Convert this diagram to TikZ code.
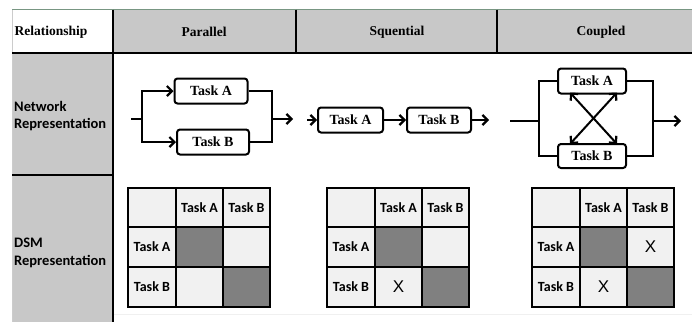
\documentclass[tikz,border=0pt]{standalone}
\usepackage{fontspec}
\setmainfont{Liberation Serif}
\newfontfamily\califont{Carlito}
\newfontfamily\arialfont{Liberation Sans}
\usetikzlibrary{arrows.meta}

\definecolor{headgray}{RGB}{200,200,200}
\definecolor{cellgray}{RGB}{241,241,241}
\definecolor{diaggray}{RGB}{128,128,128}
\definecolor{topline}{RGB}{120,150,130}

\begin{document}
\begin{tikzpicture}[x=1pt,y=-1pt,
    head/.style={font=\bfseries\fontsize{13.5}{15}\selectfont},
    rowlabel/.style={font=\califont\bfseries\fontsize{14.5}{17.5}\selectfont, align=left, anchor=west, inner sep=0pt},
    task/.style={draw, line width=2pt, rounded corners=3pt, minimum height=25pt, inner sep=2pt,
      font=\bfseries\fontsize{14}{15}\selectfont},
    arr/.style={line width=2pt, -{Straight Barb[length=5pt,width=10pt,line width=2.2pt]}},
    arrboth/.style={line width=2pt, {Straight Barb[length=5pt,width=10pt,line width=2.2pt]}-{Straight Barb[length=5pt,width=10pt,line width=2.2pt]}},
    wire/.style={line width=2pt},
    dsm/.style={font=\califont\bfseries\fontsize{14}{15}\selectfont},
    xmark/.style={font=\arialfont\fontsize{17}{19}\selectfont}
  ]

    \useasboundingbox (0,0) rectangle (692,322);

    % table
    \fill[headgray] (113,9.5) rectangle (692,53);
    \fill[headgray] (12,53) rectangle (113,322);
    \draw[topline, line width=0.8pt] (12,9.5) -- (692,9.5);
    \draw[gray!40, line width=0.6pt] (12,9.5) -- (12,322);
    \draw[gray!12, line width=0.8pt] (113,314) -- (692,314);
    \draw[line width=2pt] (12,53) -- (692,53);
    \draw[line width=2pt] (12,175) -- (113,175);
    \draw[line width=2pt] (113,9.5) -- (113,322);
    \draw[line width=2pt] (296,9.5) -- (296,53);
    \draw[line width=2pt] (497,9.5) -- (497,53);

    \node[head] (relation) at (51,32) {Relationship};
    \node[head] (parallel) at (204,32) {Parallel};
    \node[head] (squential) at (397,32) {Squential};
    \node[head] (coupled) at (601,32) {Coupled};

    \node[rowlabel] (network) at (14,116) {Network\\Representation};
    \node[rowlabel] (dsmrow) at (14,253) {DSM\\Representation};

    % parallel
    \node[task, minimum width=73pt] (pa) at (211,91) {Task A};
    \node[task, minimum width=72pt] (pb) at (213,142) {Task B};
    \coordinate (pin) at (131,119);
    \coordinate (psplit) at (142,119);
    \coordinate (pjoin) at (272,119);
    \coordinate (pout) at (293,119);
    \draw[wire] (pin) -- (psplit);
    \draw[arr] (psplit) |- (pa);
    \draw[arr] (psplit) |- (pb);
    \draw[wire] (pa) -| (pjoin) |- (pb);
    \draw[arr] (pjoin) -- (pout);

    % sequential
    \node[task, minimum width=65pt] (sa) at (350.5,120) {Task A};
    \node[task, minimum width=64pt] (sb) at (439,120) {Task B};
    \coordinate (sin) at (307,120);
    \coordinate (sout) at (489,120);
    \draw[arr] (sin) -- (sa);
    \draw[arr] (sa) -- (sb);
    \draw[arr] (sb) -- (sout);

    % coupled
    \node[task, minimum width=68pt] (ca) at (592,81) {Task A};
    \node[task, minimum width=68pt, minimum height=24pt] (cb) at (592,156) {Task B};
    \coordinate (cin) at (510,121);
    \coordinate (csplit) at (539,121);
    \coordinate (cjoin) at (653,121);
    \coordinate (cout) at (681,121);
    \draw[wire] (cin) -- (csplit);
    \draw[wire] (ca) -| (csplit) |- (cb);
    \draw[wire] (ca) -| (cjoin) |- (cb);
    \draw[arr] (cjoin) -- (cout);
    \draw[arrboth] ([xshift=-22pt,yshift=2pt]ca.south) -- ([xshift=25pt,yshift=-1pt]cb.north);
    \draw[arrboth] ([xshift=25pt,yshift=2pt]ca.south) -- ([xshift=-22pt,yshift=-1pt]cb.north);

    % dsm parallel
    \begin{scope}[xshift=128pt, yshift=-188pt]
      \fill[cellgray] (0,0) rectangle (142,119);
      \fill[diaggray] (48,39) rectangle (95,79);
      \fill[diaggray] (95,79) rectangle (142,119);
      \draw[line width=2pt] (0,0) rectangle (142,119);
      \draw[line width=2pt] (48,0) -- (48,119) (95,0) -- (95,119);
      \draw[line width=2pt] (0,39) -- (142,39) (0,79) -- (142,79);
      \node[dsm] (pcola) at (71.5,20) {Task A};
      \node[dsm] (pcolb) at (118.5,20) {Task B};
      \node[dsm] (prowa) at (24,59) {Task A};
      \node[dsm] (prowb) at (24,99) {Task B};
    \end{scope}

    % dsm sequential
    \begin{scope}[xshift=327pt, yshift=-188pt]
      \fill[cellgray] (0,0) rectangle (142,119);
      \fill[diaggray] (48,39) rectangle (95,79);
      \fill[diaggray] (95,79) rectangle (142,119);
      \draw[line width=2pt] (0,0) rectangle (142,119);
      \draw[line width=2pt] (48,0) -- (48,119) (95,0) -- (95,119);
      \draw[line width=2pt] (0,39) -- (142,39) (0,79) -- (142,79);
      \node[dsm] (scola) at (71.5,20) {Task A};
      \node[dsm] (scolb) at (118.5,20) {Task B};
      \node[dsm] (srowa) at (24,59) {Task A};
      \node[dsm] (srowb) at (24,99) {Task B};
      \node[xmark] (sxba) at (71.5,99) {X};
    \end{scope}

    % dsm coupled
    \begin{scope}[xshift=532pt, yshift=-188pt]
      \fill[cellgray] (0,0) rectangle (142,119);
      \fill[diaggray] (48,39) rectangle (95,79);
      \fill[diaggray] (95,79) rectangle (142,119);
      \draw[line width=2pt] (0,0) rectangle (142,119);
      \draw[line width=2pt] (48,0) -- (48,119) (95,0) -- (95,119);
      \draw[line width=2pt] (0,39) -- (142,39) (0,79) -- (142,79);
      \node[dsm] (ccola) at (71.5,20) {Task A};
      \node[dsm] (ccolb) at (118.5,20) {Task B};
      \node[dsm] (crowa) at (24,59) {Task A};
      \node[dsm] (crowb) at (24,99) {Task B};
      \node[xmark] (cxab) at (118.5,59) {X};
      \node[xmark] (cxba) at (71.5,99) {X};
    \end{scope}

  \end{tikzpicture}
\end{document}
